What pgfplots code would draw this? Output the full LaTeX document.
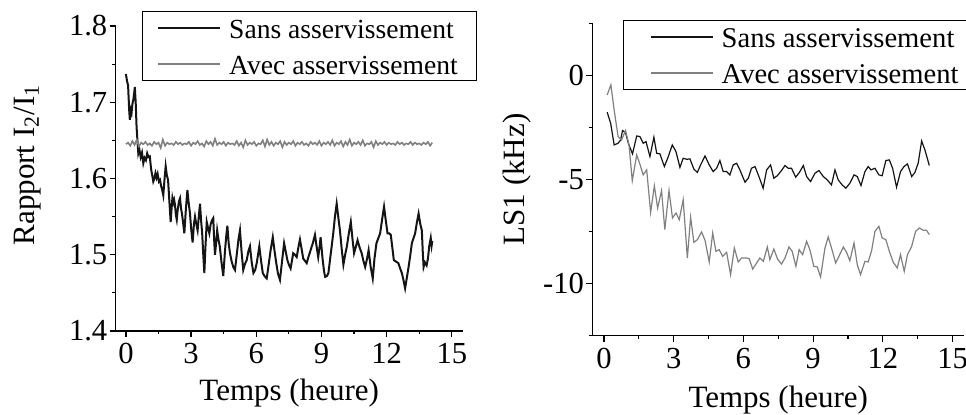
\documentclass[border=0pt]{standalone}
\usepackage{pgfplots}
\pgfplotsset{compat=1.18}
\usepackage{fontspec}
\setmainfont{Liberation Serif}

\definecolor{sansc}{RGB}{20,20,20}
\definecolor{avecc}{RGB}{128,128,128}

\pgfplotsset{
  common/.style={
    scale only axis,
    axis x line*=bottom, axis y line*=left,
    axis line style={line width=0.65pt},
    tick style={line width=0.6pt, black},
    tick align=outside,
    major tick length=3pt, minor tick length=1.6pt,
    xtick={0,3,...,15}, minor xtick={1.5,4.5,...,13.5},
    tick label style={font=\fontsize{15.3}{18}\selectfont},
    /pgf/number format/assume math mode=true,
    label style={font=\fontsize{15.5}{18}\selectfont},
    yticklabel style={inner xsep=1pt},
    xticklabel style={inner ysep=3pt},
    xlabel={Temps (heure)},
    legend cell align=left,
    legend image code/.code={\draw[##1] (0pt,0pt) -- (31pt,0pt); \path (33pt,0pt);},
    legend style={draw=black, line width=0.5pt,
      font=\fontsize{13.8}{16}\selectfont, anchor=north west,
      inner ysep=2pt, row sep=5.5pt,
      nodes={text height=10.5pt, text depth=0pt, inner ysep=1pt, inner xsep=2pt}},
  }
}

\begin{document}
\begin{tikzpicture}
\path[use as bounding box] (0,0) rectangle (483pt,207.5pt);

% ---- left: rapport I2/I1
\begin{axis}[common,
  at={(57.85pt,42pt)}, anchor=south west,
  width=173.5pt, height=152.5pt,
  xmin=-0.47, xmax=15.5, ymin=1.4, ymax=1.8,
  ytick={1.4,1.5,...,1.8}, minor ytick={1.45,1.55,1.65,1.75},
  yticklabel style={/pgf/number format/fixed,/pgf/number format/precision=1},
  ylabel={Rapport I\textsubscript{2}/I\textsubscript{1}},
  ylabel style={at={(axis description cs:-0.254,0.544)}, anchor=center},
  xlabel style={at={(axis description cs:0.5,-0.2033)}, anchor=center},
  legend style={at={(axis description cs:0.0749,1.0492)}, inner xsep=7.5pt},
  ]
\addplot[sansc, line width=1pt] coordinates {
(0.00,1.737) (0.05,1.728) (0.10,1.722) (0.15,1.690) (0.18,1.677) (0.22,1.690)
(0.26,1.686) (0.30,1.698) (0.34,1.703) (0.38,1.712) (0.41,1.720) (0.45,1.700)
(0.49,1.668) (0.53,1.650) (0.57,1.633) (0.62,1.638) (0.68,1.628) (0.74,1.634)
(0.80,1.620) (0.86,1.627) (0.92,1.624) (0.98,1.633) (1.04,1.628) (1.10,1.629)
(1.16,1.612) (1.22,1.603) (1.26,1.596) (1.31,1.600) (1.36,1.607) (1.41,1.601)
(1.46,1.606) (1.52,1.596) (1.57,1.598) (1.62,1.590) (1.67,1.585) (1.72,1.578)
(1.78,1.600) (1.83,1.616) (1.88,1.605) (1.94,1.598) (2.00,1.570) (2.06,1.543)
(2.10,1.560) (2.14,1.574) (2.18,1.568) (2.22,1.572) (2.26,1.565) (2.30,1.552)
(2.34,1.546) (2.38,1.558) (2.44,1.570) (2.49,1.574) (2.54,1.560) (2.58,1.554)
(2.64,1.540) (2.69,1.528) (2.76,1.560) (2.83,1.585) (2.88,1.570) (2.95,1.554)
(3.00,1.535) (3.07,1.516) (3.13,1.540) (3.18,1.550) (3.24,1.540) (3.30,1.532)
(3.36,1.552) (3.41,1.567) (3.46,1.545) (3.51,1.528) (3.56,1.500) (3.61,1.476)
(3.66,1.510) (3.72,1.543) (3.78,1.535) (3.84,1.528) (3.90,1.540) (3.96,1.545)
(4.02,1.548) (4.06,1.520) (4.10,1.500) (4.15,1.515) (4.20,1.532) (4.26,1.520)
(4.32,1.511) (4.40,1.490) (4.48,1.472) (4.56,1.505) (4.62,1.525) (4.67,1.538)
(4.73,1.515) (4.79,1.502) (4.86,1.492) (4.94,1.484) (5.02,1.480) (5.10,1.500)
(5.18,1.520) (5.25,1.532) (5.32,1.505) (5.40,1.480) (5.48,1.488) (5.56,1.493)
(5.64,1.505) (5.71,1.511) (5.79,1.490) (5.87,1.476) (5.95,1.480) (6.02,1.489)
(6.08,1.500) (6.14,1.511) (6.22,1.492) (6.30,1.476) (6.38,1.472) (6.48,1.469)
(6.56,1.485) (6.66,1.506) (6.72,1.516) (6.76,1.523) (6.84,1.505) (6.92,1.489)
(7.00,1.475) (7.09,1.467) (7.18,1.490) (7.28,1.515) (7.35,1.505) (7.43,1.493)
(7.50,1.487) (7.58,1.482) (7.64,1.492) (7.70,1.502) (7.78,1.500) (7.86,1.497)
(7.94,1.510) (8.01,1.520) (8.09,1.507) (8.16,1.495) (8.24,1.492) (8.32,1.489)
(8.40,1.497) (8.50,1.506) (8.60,1.515) (8.70,1.526) (8.78,1.510) (8.85,1.497)
(8.92,1.512) (8.96,1.523) (9.05,1.495) (9.12,1.478) (9.17,1.471) (9.25,1.472)
(9.32,1.476) (9.40,1.495) (9.47,1.511) (9.55,1.530) (9.62,1.550) (9.70,1.567)
(9.78,1.548) (9.85,1.532) (9.93,1.508) (10.01,1.487) (10.09,1.500) (10.17,1.511)
(10.26,1.528) (10.35,1.543) (10.43,1.520) (10.50,1.502) (10.58,1.510) (10.66,1.519)
(10.75,1.510) (10.85,1.502) (10.93,1.492) (11.01,1.484) (11.10,1.495) (11.17,1.506)
(11.26,1.485) (11.36,1.469) (11.44,1.495) (11.53,1.515) (11.62,1.522) (11.70,1.528)
(11.80,1.548) (11.88,1.563) (11.96,1.545) (12.04,1.528) (12.12,1.528) (12.19,1.526)
(12.26,1.510) (12.33,1.493) (12.43,1.491) (12.54,1.489) (12.62,1.482) (12.70,1.476)
(12.78,1.466) (12.85,1.456) (12.93,1.470) (13.01,1.484) (13.09,1.500) (13.16,1.515)
(13.24,1.522) (13.31,1.528) (13.39,1.542) (13.47,1.554) (13.55,1.540) (13.62,1.532)
(13.66,1.505) (13.70,1.484) (13.76,1.490) (13.84,1.486) (13.90,1.495) (13.96,1.511)
(14.03,1.522) (14.07,1.512) (14.10,1.518)
};
\addlegendentry{Sans asservissement}
\addplot[avecc, line width=0.8pt] coordinates {
(0.0,1.645) (0.1,1.647) (0.2,1.643) (0.3,1.649) (0.4,1.644) (0.5,1.651)
(0.6,1.642) (0.7,1.647) (0.8,1.645) (0.9,1.648) (1.0,1.644) (1.1,1.646)
(1.2,1.643) (1.3,1.648) (1.4,1.645) (1.5,1.647) (1.6,1.640) (1.7,1.651)
(1.8,1.643) (1.9,1.647) (2.0,1.645) (2.1,1.646) (2.2,1.644) (2.3,1.648)
(2.4,1.645) (2.5,1.647) (2.6,1.644) (2.7,1.646) (2.8,1.645) (2.9,1.648)
(3.0,1.643) (3.1,1.647) (3.2,1.645) (3.3,1.649) (3.4,1.644) (3.5,1.646)
(3.6,1.642) (3.7,1.649) (3.8,1.645) (3.9,1.648) (4.0,1.643) (4.1,1.652)
(4.2,1.644) (4.3,1.647) (4.4,1.645) (4.5,1.648) (4.6,1.643) (4.7,1.647)
(4.8,1.645) (4.9,1.646) (5.0,1.644) (5.1,1.649) (5.2,1.643) (5.3,1.647)
(5.4,1.641) (5.5,1.650) (5.6,1.644) (5.7,1.647) (5.8,1.645) (5.9,1.648)
(6.0,1.643) (6.1,1.646) (6.2,1.645) (6.3,1.650) (6.4,1.642) (6.5,1.651)
(6.6,1.644) (6.7,1.648) (6.8,1.643) (6.9,1.647) (7.0,1.645) (7.1,1.649)
(7.2,1.641) (7.3,1.648) (7.4,1.644) (7.5,1.647) (7.6,1.645) (7.7,1.649)
(7.8,1.643) (7.9,1.647) (8.0,1.645) (8.1,1.648) (8.2,1.644) (8.3,1.646)
(8.4,1.643) (8.5,1.648) (8.6,1.645) (8.7,1.647) (8.8,1.644) (8.9,1.649)
(9.0,1.643) (9.1,1.647) (9.2,1.645) (9.3,1.648) (9.4,1.644) (9.5,1.650)
(9.6,1.643) (9.7,1.647) (9.8,1.645) (9.9,1.649) (10.0,1.642) (10.1,1.648)
(10.2,1.644) (10.3,1.651) (10.4,1.643) (10.5,1.647) (10.6,1.645) (10.7,1.648)
(10.8,1.644) (10.9,1.650) (11.0,1.643) (11.1,1.646) (11.2,1.645) (11.3,1.648)
(11.4,1.641) (11.5,1.649) (11.6,1.644) (11.7,1.647) (11.8,1.645) (11.9,1.648)
(12.0,1.644) (12.1,1.647) (12.2,1.645) (12.3,1.646) (12.4,1.644) (12.5,1.648)
(12.6,1.645) (12.7,1.647) (12.8,1.644) (12.9,1.646) (13.0,1.645) (13.1,1.648)
(13.2,1.644) (13.3,1.647) (13.4,1.645) (13.5,1.646) (13.6,1.644) (13.7,1.647)
(13.8,1.645) (13.9,1.648) (14.0,1.643) (14.1,1.647)
};
\addlegendentry{Avec asservissement}
\end{axis}

% ---- right: LS1
\begin{axis}[common,
  at={(296.15pt,39.65pt)}, anchor=south west,
  width=185.95pt, height=156.2pt,
  xmin=-0.5, xmax=15.5, ymin=-12.5, ymax=2.5,
  ytick={-10,-5,0}, minor ytick={-12.5,-7.5,-2.5,2.5},
  ylabel={LS1 (kHz)},
  ylabel style={at={(axis description cs:-0.2033,0.5)}, anchor=center},
  xlabel style={at={(axis description cs:0.5,-0.2049)}, anchor=center},
  legend style={at={(axis description cs:0.0826,1.0106)}, inner xsep=13.5pt,
    font=\fontsize{14.3}{16}\selectfont},
  ]
\addplot[sansc, line width=0.6pt] coordinates {
(0.14,-1.77) (0.29,-2.30) (0.44,-3.34) (0.61,-3.26) (0.72,-3.10) (0.80,-2.65)
(0.93,-2.75) (1.05,-3.26) (1.23,-3.77) (1.41,-2.91) (1.55,-2.94) (1.69,-3.26)
(1.81,-3.18) (1.98,-3.90) (2.15,-2.97) (2.27,-3.74) (2.41,-3.77) (2.60,-4.38)
(2.77,-3.90) (2.94,-3.34) (3.10,-3.66) (3.27,-4.42) (3.41,-3.98) (3.56,-4.03)
(3.70,-4.01) (3.87,-4.50) (4.02,-4.66) (4.16,-4.30) (4.35,-3.87) (4.53,-4.30)
(4.70,-4.62) (4.85,-4.46) (4.99,-4.09) (5.13,-4.62) (5.28,-4.62) (5.42,-4.78)
(5.56,-4.30) (5.71,-4.22) (5.85,-4.54) (6.07,-5.13) (6.21,-4.94) (6.35,-4.46)
(6.50,-4.38) (6.67,-4.86) (6.85,-5.42) (7.00,-4.54) (7.17,-4.30) (7.31,-4.94)
(7.46,-4.82) (7.64,-4.57) (7.79,-4.33) (7.93,-4.46) (8.07,-4.46) (8.25,-4.89)
(8.41,-4.66) (8.58,-4.33) (8.72,-4.86) (8.89,-5.10) (9.08,-4.70) (9.25,-4.57)
(9.44,-4.86) (9.61,-5.02) (9.79,-5.26) (9.94,-4.54) (10.08,-5.02) (10.25,-5.26)
(10.41,-5.42) (10.58,-5.18) (10.76,-4.78) (10.90,-4.86) (11.06,-5.29) (11.23,-4.62)
(11.37,-4.38) (11.49,-4.54) (11.66,-4.46) (11.83,-4.78) (11.97,-4.82) (12.13,-4.09)
(12.28,-4.06) (12.42,-4.46) (12.59,-5.37) (12.76,-4.62) (12.91,-4.38) (13.06,-4.25)
(13.24,-4.86) (13.38,-4.66) (13.52,-4.22) (13.67,-3.15) (13.81,-3.58) (14.00,-4.33)
};
\addlegendentry{Sans asservissement}
\addplot[avecc, line width=0.6pt] coordinates {
(0.14,-0.94) (0.30,-0.46) (0.44,-1.66) (0.61,-2.94) (0.76,-3.10) (0.93,-2.65)
(1.08,-3.34) (1.22,-5.06) (1.41,-3.82) (1.55,-4.27) (1.69,-4.78) (1.84,-4.54)
(2.01,-6.58) (2.17,-5.30) (2.31,-6.37) (2.48,-5.53) (2.62,-7.41) (2.80,-5.53)
(2.95,-6.85) (3.10,-6.61) (3.24,-6.93) (3.41,-5.97) (3.59,-8.77) (3.73,-6.81)
(3.87,-8.02) (4.02,-7.89) (4.20,-7.52) (4.35,-7.92) (4.53,-8.96) (4.68,-7.57)
(4.82,-8.45) (4.96,-8.37) (5.11,-8.69) (5.28,-8.50) (5.45,-9.57) (5.61,-8.29)
(5.78,-8.96) (5.92,-8.77) (6.14,-8.77) (6.25,-8.80) (6.40,-9.30) (6.57,-9.01)
(6.71,-8.77) (6.86,-8.93) (7.03,-8.24) (7.14,-8.85) (7.31,-8.34) (7.47,-8.82)
(7.64,-9.06) (7.79,-8.77) (7.96,-8.24) (8.10,-8.45) (8.26,-9.17) (8.40,-8.37)
(8.55,-8.61) (8.72,-7.97) (8.86,-8.37) (9.03,-9.17) (9.18,-9.20) (9.32,-9.68)
(9.51,-8.29) (9.65,-7.76) (9.82,-8.40) (9.97,-9.01) (10.11,-8.69) (10.30,-8.24)
(10.44,-8.50) (10.58,-8.90) (10.76,-8.05) (10.90,-9.09) (11.04,-9.57) (11.23,-8.93)
(11.37,-8.96) (11.52,-8.40) (11.66,-7.49) (11.83,-7.25) (11.97,-7.81) (12.13,-7.89)
(12.28,-8.45) (12.45,-8.98) (12.62,-9.25) (12.76,-8.61) (12.92,-9.41) (13.06,-8.61)
(13.24,-8.21) (13.41,-7.49) (13.57,-7.33) (13.74,-7.44) (13.88,-7.44) (14.00,-7.65)
};
\addlegendentry{Avec asservissement}
\end{axis}
\end{tikzpicture}
\end{document}
